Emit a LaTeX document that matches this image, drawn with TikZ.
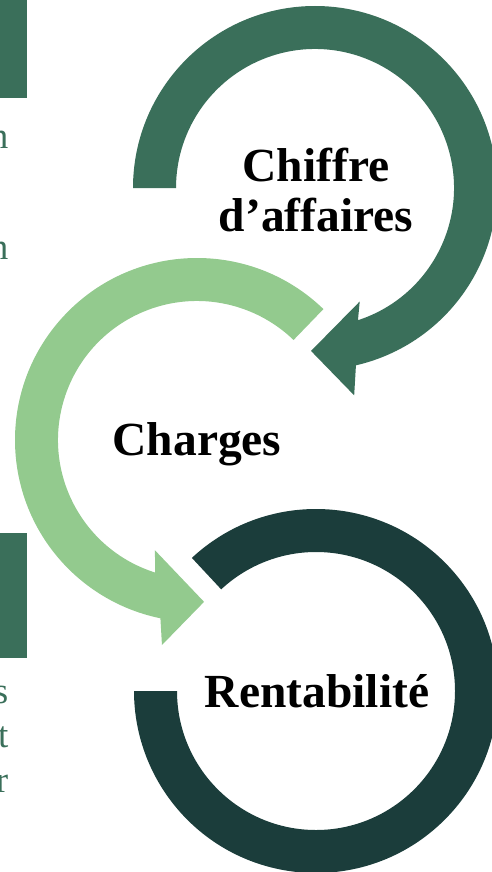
\documentclass[tikz,border=0pt]{standalone}
\usepackage{fontspec}
\setmainfont{Liberation Serif}
\usetikzlibrary{positioning}
\definecolor{greenA}{HTML}{3A6F5A}
\definecolor{greenB}{HTML}{93CA8E}
\definecolor{greenC}{HTML}{1B3D3B}

\begin{document}
\begin{tikzpicture}[x=1pt, y=1pt,
	title/.style={font=\fontsize{47.5}{50}\selectfont\bfseries, align=center, inner sep=0pt},
	side/.style={font=\fontsize{37}{44.5}\selectfont, text=greenA, inner sep=0pt, anchor=base east}]
	\clip (0,0) rectangle (492,-872);
	
	\coordinate (c1) at (315,-188);
	\coordinate (c2) at (197,-440);
	\coordinate (c3) at (316,-691);
	
	% left border
	\fill[greenA] (0,0) rectangle (27,-98);
	\fill[greenA] (0,-533) rectangle (27,-658);
	\node[side] (s1) at (8.5,-148) {n};
	\node[side] (s2) at (8.5,-259) {n};
	\node[side] (s3) at (8.5,-703) {s};
	\node[side] (s4) at (8.5,-747) {t};
	\node[side] (s5) at (8.5,-792) {r};
	
	% rings
	\begin{scope}[shift={(c1)}]
		\fill[greenA] (180:182) arc[start angle=180, end angle=-77, radius=182]
			-- (-79.3:211) -- (-91.4:163) -- (-68.5:122) -- (-72:139)
			arc[start angle=-72, end angle=180, radius=139] -- cycle;
	\end{scope}
	\begin{scope}[shift={(c2)}]
		\fill[greenB] (46:182) arc[start angle=46, end angle=258.4, radius=182]
			-- (260.3:208) -- (272.5:162) -- (249.1:118) -- (252.5:139)
			arc[start angle=252.5, end angle=46, radius=139] -- cycle;
	\end{scope}
	\begin{scope}[shift={(c3)}]
		\fill[greenC] (133:182) arc[start angle=133, end angle=-180, radius=182]
			-- (180:139) arc[start angle=-180, end angle=133, radius=139] -- cycle;
	\end{scope}
	
	\node[title] (ca) at (316,-190) {Chiffre\\d’affaires};
	\node[title, anchor=base] (ch) at (197,-455) {Charges};
	\node[title, anchor=base] (re) at (317,-707) {Rentabilité};
\end{tikzpicture}
\end{document}
